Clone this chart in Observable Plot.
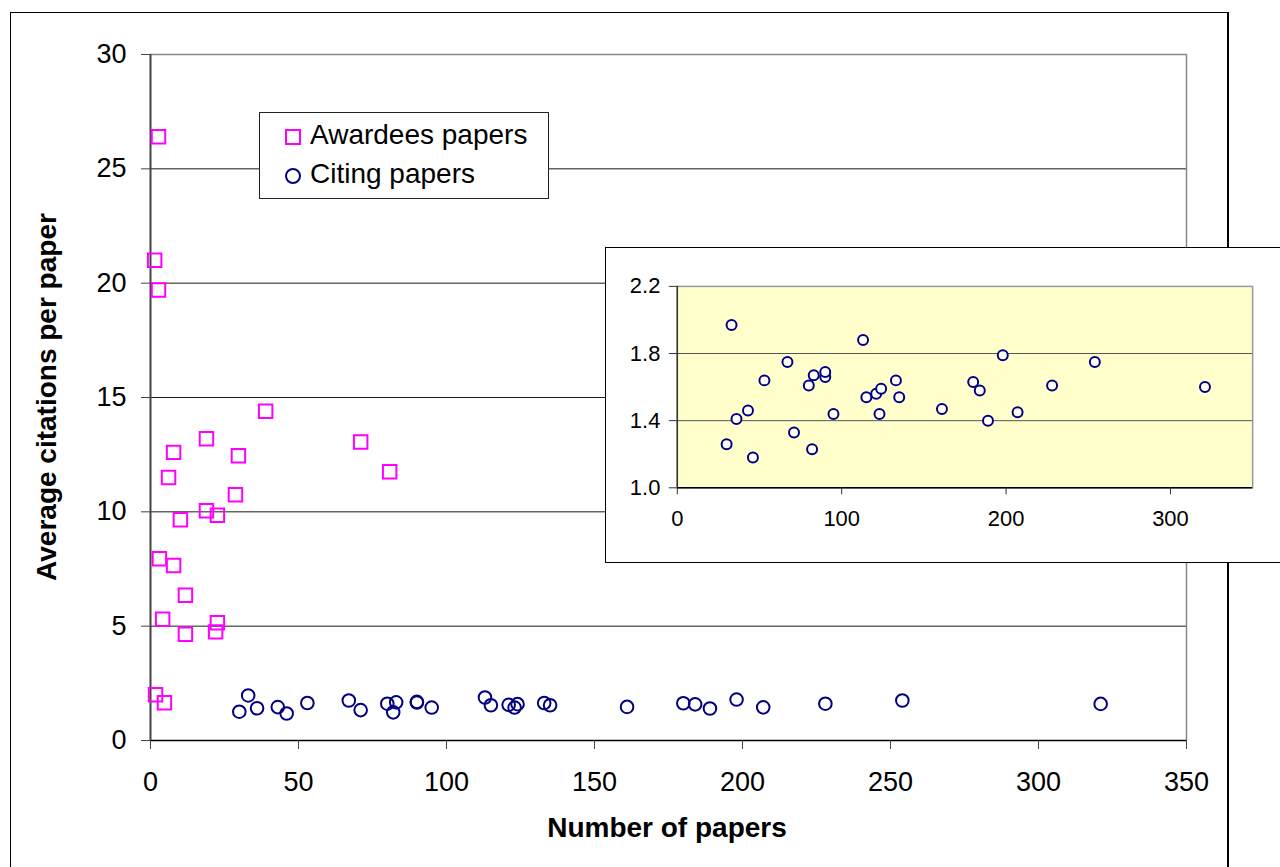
<!DOCTYPE html>
<html>
<head>
<meta charset="utf-8">
<script src="https://cdn.jsdelivr.net/npm/d3@7"></script>
<script src="https://cdn.jsdelivr.net/npm/@observablehq/plot@0.6"></script>
<style>
  html, body { margin: 0; padding: 0; background: #fff; }
  body { width: 1280px; height: 867px; overflow: hidden; position: relative; font-family: "Liberation Sans", Arial, sans-serif; }
  #frame { position: absolute; left: 10px; top: 12px; width: 1216px; height: 900px; border: 1px solid #000; border-right-width: 2px; }
  #main { position: absolute; left: 0; top: 0; }
  #legend { position: absolute; left: 259px; top: 112px; width: 288px; height: 85px; border: 1px solid #222; background: #fff; }
  .lrow { position: absolute; left: 0; height: 40px; font-size: 28px; line-height: 40px; white-space: nowrap; }
  .lrow svg { position: absolute; left: 24px; top: 12px; }
  .lrow span { position: absolute; left: 50px; top: -1px; }
  #inset { position: absolute; left: 605px; top: 247px; width: 700px; height: 314px; border: 1px solid #000; background: #fff; }
  #inset svg { position: absolute; left: -1px; top: -1px; }
  #xtitle { position: absolute; left: 467px; width: 400px; top: 811px; text-align: center; font-weight: bold; font-size: 28px; line-height: 34px; }
  #ytitle { position: absolute; left: 47px; top: 397px; width: 420px; transform: translate(-50%, -50%) rotate(-90deg); text-align: center; font-weight: bold; font-size: 28px; line-height: 34px; white-space: nowrap; }
</style>
</head>
<body>
<div id="frame"></div>
<div id="main"></div>
<div id="legend">
  <div class="lrow" style="top:3px;">
    <svg width="18" height="18"><rect x="2" y="2" width="14" height="14" fill="none" stroke="#FF00FF" stroke-width="2"/></svg>
    <span>Awardees papers</span>
  </div>
  <div class="lrow" style="top:42px;">
    <svg width="18" height="18"><circle cx="9" cy="9" r="7" fill="none" stroke="#000080" stroke-width="2"/></svg>
    <span>Citing papers</span>
  </div>
</div>
<div id="inset"></div>
<div id="xtitle">Number of papers</div>
<div id="ytitle">Average citations per paper</div>
<script>
// ---- data ----
const awardeesX = [2.7, 1.4, 2.7, 38.9, 18.9, 7.8, 6.1, 29.7, 28.7, 18.9, 22.6, 10.1, 71, 80.8, 3, 7.8, 11.8, 4.1, 22.6, 22, 11.8, 1.7, 4.7];
const awardeesY = [26.4, 21.0, 19.7, 14.4, 13.2, 12.6, 11.5, 12.45, 10.75, 10.05, 9.85, 9.65, 13.05, 11.75, 7.95, 7.65, 6.35, 5.3, 5.15, 4.75, 4.65, 2.0, 1.65];

const citingX = [30, 33, 36, 43, 46, 53, 67, 71, 80, 82, 83, 90, 90, 95, 113, 115, 121, 123, 124, 133, 135, 161, 180, 184, 189, 198, 207, 228, 254, 321];
const citingY = [1.26, 1.97, 1.41, 1.46, 1.18, 1.64, 1.75, 1.33, 1.61, 1.23, 1.67, 1.66, 1.69, 1.44, 1.88, 1.54, 1.56, 1.44, 1.59, 1.64, 1.54, 1.47, 1.63, 1.58, 1.40, 1.79, 1.45, 1.61, 1.75, 1.60];

const mainXTicks = [0, 50, 100, 150, 200, 250, 300, 350];
const mainYTicks = [0, 5, 10, 15, 20, 25, 30];
const insetXTicks = [0, 100, 200, 300];
const insetYTicks = [1.0, 1.4, 1.8, 2.2];

const awardees = awardeesX.map((x, i) => ({x, y: awardeesY[i]}));
const citing = citingX.map((x, i) => ({x, y: citingY[i]}));

// ---- main chart ----
const main = Plot.plot({
  width: 1280, height: 867,
  marginLeft: 150, marginRight: 94, marginTop: 54, marginBottom: 127,
  style: {fontFamily: "'Liberation Sans', Arial, sans-serif", fontSize: "27px", color: "#000", background: "transparent", overflow: "visible"},
  x: {domain: [0, 350]},
  y: {domain: [0, 30]},
  marks: [
    Plot.ruleY(mainYTicks.filter(d => d > 0 && d < 30), {stroke: "#1a1a1a", strokeWidth: 1}),
    Plot.ruleY([30], {stroke: "#888", strokeWidth: 1.5}),
    Plot.ruleX([350], {stroke: "#888", strokeWidth: 1.5}),
    Plot.ruleY([0], {stroke: "#000", strokeWidth: 1.5}),
    Plot.ruleX([0], {stroke: "#444", strokeWidth: 2}),
    Plot.axisX({ticks: mainXTicks, tickSize: 9, tickPadding: 22, label: null, stroke: "#444", fontSize: 27}),
    Plot.axisY({ticks: mainYTicks, tickSize: 9, tickPadding: 15, label: null, stroke: "#444", fontSize: 27}),
    Plot.dot(citing, {x: "x", y: "y", symbol: "circle", r: 6.3, stroke: "#000080", strokeWidth: 2, fill: "none"}),
    Plot.dot(awardees, {x: "x", y: "y", symbol: "square", r: 7.6, stroke: "#FF00FF", strokeWidth: 2, fill: "none"})
  ]
});
document.getElementById("main").appendChild(main);

// ---- inset chart ----
const inset = Plot.plot({
  width: 702, height: 316,
  marginLeft: 72, marginRight: 53, marginTop: 39, marginBottom: 75,
  style: {fontFamily: "'Liberation Sans', Arial, sans-serif", fontSize: "22px", color: "#000", background: "transparent", overflow: "visible"},
  x: {domain: [0, 350]},
  y: {domain: [1.0, 2.2]},
  marks: [
    Plot.frame({fill: "#FFFFCC", stroke: "#999", strokeWidth: 1.5}),
    Plot.ruleY([1.4, 1.8], {stroke: "#555", strokeWidth: 1}),
    Plot.ruleY([1.0], {stroke: "#000", strokeWidth: 1.5}),
    Plot.ruleX([0], {stroke: "#333", strokeWidth: 1.5}),
    Plot.axisX({ticks: insetXTicks, tickSize: 7, tickPadding: 16, label: null, stroke: "#333", fontSize: 22}),
    Plot.axisY({ticks: insetYTicks, tickFormat: d3.format(".1f"), tickSize: 8, tickPadding: 9, label: null, stroke: "#333", fontSize: 22}),
    Plot.dot(citing, {x: "x", y: "y", symbol: "circle", r: 5, stroke: "#000080", strokeWidth: 2, fill: "#fff"})
  ]
});
document.getElementById("inset").appendChild(inset);
</script>
</body>
</html>
